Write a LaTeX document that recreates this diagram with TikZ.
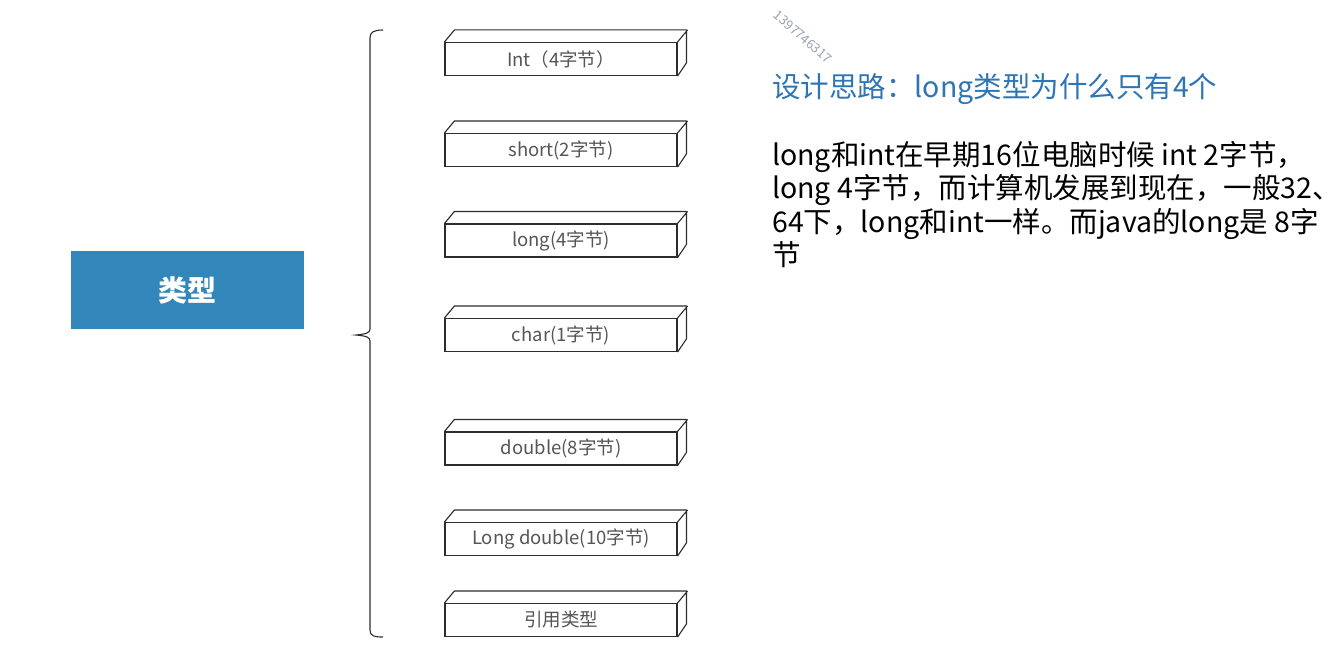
\documentclass[tikz,border=0pt]{standalone}
\usepackage{fontspec}
\setmainfont{Noto Sans CJK SC}
\newfontfamily\cjk{Noto Sans CJK SC}
\definecolor{typeblue}{RGB}{50,134,186}
\definecolor{titleblue}{RGB}{46,117,182}
\definecolor{edgegray}{RGB}{45,45,45}
\definecolor{labelgray}{RGB}{85,85,85}
\definecolor{wmark}{RGB}{150,164,180}
\tikzset{
  typebox/.style={fill=typeblue, draw=none, minimum width=233pt, minimum height=78pt, inner sep=0pt,
    text=white, font=\cjk\bfseries\fontsize{29}{34}\selectfont},
  datbox/.style={draw=edgegray, line width=1.1pt, fill=white, minimum width=232pt, minimum height=33pt,
    inner sep=0pt, text=labelgray, font=\cjk\fontsize{18.5}{22}\selectfont},
  boxedge/.style={draw=edgegray, line width=1.1pt, line join=round},
  bracepath/.style={draw=edgegray, line width=1.1pt},
  titletext/.style={anchor=base west, inner sep=0pt, text=titleblue, font=\cjk\fontsize{28.5}{34}\selectfont},
  bodytext/.style={anchor=north west, inner sep=0pt, align=left, text=black, font=\cjk\fontsize{28.5}{33.5}\selectfont},
  wmtext/.style={rotate=-41, inner sep=0pt, text=wmark, font=\cjk\fontsize{13}{15}\selectfont}
}
\begin{document}
\begin{tikzpicture}[x=1pt,y=-1pt]
\useasboundingbox[fill=white] (0,0) rectangle (1339,669);
% main node
\node[typebox] (type) at (187.5,290) {类型};
% brace
\coordinate (brtop) at (383,30);
\coordinate (brtip) at (356,335);
\coordinate (brbot) at (383,637);
\draw[bracepath] (brtop) .. controls (374,30) and (370,32) .. (370,38) -- (370,329)
  .. controls (370,333) and (366,334) .. (brtip)
  .. controls (366,336) and (370,337) .. (370,341) -- (370,630)
  .. controls (370,636) and (374,637) .. (brbot);
% data type boxes
\foreach \n/\yy/\t in {1/59/{Int（4字节）},2/150/{short(2字节)},3/240.5/{long(4字节)},4/335/{char(1字节)},5/448.5/{double(8字节)},6/539/{Long double(10字节)},7/620/{引用类型}}{
  \node[datbox] (b\n) at (561,\yy) {\raisebox{-1.2pt}{\t}};
  \draw[boxedge] (b\n.north west) -- ++(10,-12) -- ++(232,0) -- ++(0,33) -- (b\n.south east)
    (b\n.north east) -- ++(10,-12);
}
% watermark
\node[wmtext] (wm) at (803,37) {1397746317};
% title and body
\node[titletext] (title) at (772,97) {设计思路：long类型为什么只有4个};
\node[bodytext] (body) at (772,141) {long和int在早期16位电脑时候 int 2字节，\\long 4字节，而计算机发展到现在，一般32、\\64下，long和int一样。而java的long是 8字\\节};
\end{tikzpicture}
\end{document}
